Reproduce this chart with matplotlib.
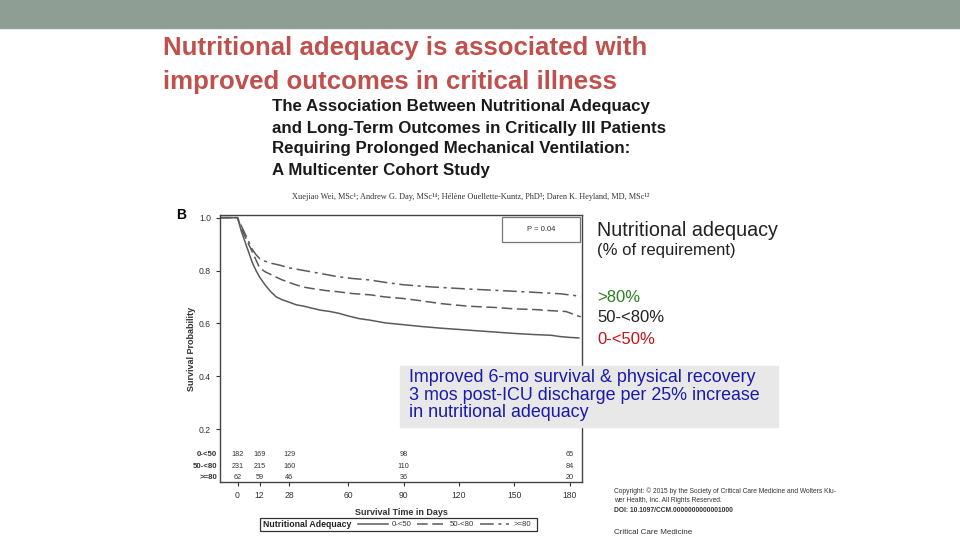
import matplotlib.pyplot as plt
from matplotlib.patches import Rectangle

plt.rcParams['font.family'] = ['Liberation Sans', 'DejaVu Sans']

# survival curves (days, probability)
t_low = [0, 2, 4, 6, 8, 10, 12, 15, 18, 21, 24, 28, 32, 36, 40, 45, 50, 55, 60, 66, 72,
         80, 90, 100, 110, 120, 130, 140, 150, 160, 170, 175, 180, 185]
s_low = [1.0, 0.95, 0.91, 0.87, 0.83, 0.80, 0.775, 0.745, 0.72, 0.70, 0.69, 0.68, 0.67,
         0.665, 0.658, 0.65, 0.645, 0.638, 0.628, 0.618, 0.612, 0.602, 0.595, 0.588,
         0.582, 0.577, 0.572, 0.567, 0.562, 0.558, 0.555, 0.55, 0.547, 0.545]
t_mid = [0, 2, 4, 6, 8, 10, 12, 15, 18, 21, 24, 28, 32, 36, 42, 48, 54, 62, 72, 80, 90,
         100, 110, 125, 140, 150, 162, 170, 178, 183, 186]
s_mid = [1.0, 0.96, 0.93, 0.90, 0.87, 0.84, 0.81, 0.795, 0.785, 0.775, 0.765, 0.755,
         0.745, 0.737, 0.73, 0.724, 0.72, 0.713, 0.708, 0.70, 0.694, 0.685, 0.675,
         0.665, 0.66, 0.655, 0.652, 0.648, 0.645, 0.632, 0.625]
t_high = [0, 2, 4, 6, 8, 10, 12, 15, 18, 23, 28, 36, 44, 54, 62, 72, 80, 90, 105, 125,
          140, 162, 175, 183, 186]
s_high = [1.0, 0.97, 0.94, 0.91, 0.88, 0.86, 0.845, 0.835, 0.828, 0.82, 0.81, 0.80,
          0.79, 0.777, 0.77, 0.764, 0.755, 0.746, 0.738, 0.73, 0.725, 0.717, 0.712,
          0.705, 0.70]

risk_days = [0, 12, 28, 90, 180]
risk_low = [182, 169, 129, 98, 65]
risk_mid = [231, 215, 160, 110, 84]
risk_high = [62, 59, 46, 36, 20]
group_labels = ['0-<50', '50-<80', '>=80']
x_ticks = [0, 12, 28, 60, 90, 120, 150, 180]
y_ticks = [0.2, 0.4, 0.6, 0.8, 1.0]

fig = plt.figure(figsize=(9.6, 5.4), dpi=100)

# slide background pieces
fig.patches.append(Rectangle((0, 1 - 28 / 540), 1, 28 / 540, transform=fig.transFigure,
                             color='#8f9e95', zorder=0))

fig.text(163 / 960, 1 - 48 / 540, 'Nutritional adequacy is associated with',
         fontsize=18.6, fontweight='bold', color='#c0504d', va='center')
fig.text(163 / 960, 1 - 82 / 540, 'improved outcomes in critical illness',
         fontsize=18.6, fontweight='bold', color='#c0504d', va='center')

art_title = ['The Association Between Nutritional Adequacy',
             'and Long-Term Outcomes in Critically Ill Patients',
             'Requiring Prolonged Mechanical Ventilation:',
             'A Multicenter Cohort Study']
for i, line in enumerate(art_title):
    fig.text(272 / 960, 1 - (107 + 21 * i) / 540, line, fontsize=12.2,
             fontweight='bold', color='#1a1a1a', va='center')
fig.text(292 / 960, 1 - 197 / 540,
         'Xuejiao Wei, MSc¹; Andrew G. Day, MSc¹⁴; Hélène Ouellette-Kuntz, PhD³; '
         'Daren K. Heyland, MD, MSc¹²',
         fontsize=5.95, family=['Liberation Serif', 'DejaVu Serif'], color='#333333',
         va='center')

fig.text(176 / 960, 1 - 215 / 540, 'B', fontsize=10, fontweight='bold', va='center')

# Kaplan-Meier panel
ax = fig.add_axes([220 / 960, 58 / 540, 362 / 960, 267 / 540])
grey = '#5a5a5a'
ax.plot([-10] + t_low, [1.0] + s_low, color=grey, lw=1.1, ls='-')
ax.plot([-10] + t_mid, [1.0] + s_mid, color=grey, lw=1.1, ls=(0, (7, 3)))
ax.plot([-10] + t_high, [1.0] + s_high, color=grey, lw=1.1, ls=(0, (9, 3, 2, 3)))
ax.set_xlim(-9.5, 186.7)
ax.set_ylim(0, 1.01)
ax.set_xticks(x_ticks)
ax.set_yticks(y_ticks)
ax.set_yticklabels(['%.1f' % v for v in y_ticks])
ax.tick_params(labelsize=6.2, colors='#333333', length=3, width=0.8)
for sp in ax.spines.values():
    sp.set_color('#444444')
    sp.set_linewidth(1.0)
ax.set_xlabel('Survival Time in Days', fontsize=6.5, fontweight='bold', color='#333333',
              labelpad=6)
ax.set_ylabel('Survival Probability', fontsize=6.5, fontweight='bold', color='#333333',
              labelpad=2)

rows = [risk_low, risk_mid, risk_high]
row_y = [0.102, 0.057, 0.015]
for lab, vals, yy in zip(group_labels, rows, row_y):
    ax.text(-0.008, yy, lab, transform=ax.transAxes, ha='right', va='center',
            fontsize=5.6, fontweight='bold', color='#333333')
    for d, v in zip(risk_days, vals):
        ax.text(d, yy * 1.01, str(v), ha='center', va='center', fontsize=5.2,
                color='#333333')

ax.add_patch(Rectangle((0.779, 0.899), 0.215, 0.094, transform=ax.transAxes,
                       fill=False, ec='#777777', lw=0.9))
ax.text(0.887, 0.946, 'P = 0.04', transform=ax.transAxes, ha='center', va='center',
        fontsize=5.5, color='#333333')

# bottom legend strip
fig.patches.append(Rectangle((260 / 960, 1 - 531 / 540), 277 / 960, 13 / 540,
                             transform=fig.transFigure, fill=False, ec='#333333',
                             lw=0.9))
fig.text(263 / 960, 1 - 524.5 / 540, 'Nutritional Adequacy', fontsize=6.3,
         fontweight='bold', color='#222222', va='center')
leg = fig.legend(handles=ax.get_lines(), labels=group_labels, loc='center left',
                 bbox_to_anchor=(358 / 960, 1 - 524.5 / 540), ncol=3, fontsize=5.6,
                 frameon=False, handlelength=3.8, borderpad=0.0, borderaxespad=0.0,
                 columnspacing=0.7, handletextpad=0.5)
for txt in leg.get_texts():
    txt.set_color('#333333')

# right-hand notes
fig.text(597 / 960, 1 - 231 / 540, 'Nutritional adequacy', fontsize=14.2,
         color='#222222', va='center')
fig.text(597 / 960, 1 - 251 / 540, '(% of requirement)', fontsize=12, color='#222222',
         va='center')
fig.text(597 / 960, 1 - 297 / 540, '>80%', fontsize=12, color='#2e7d20', va='center')
fig.text(597 / 960, 1 - 317 / 540, '50-<80%', fontsize=12, color='#222222', va='center')
fig.text(597 / 960, 1 - 339 / 540, '0-<50%', fontsize=12, color='#c0141a', va='center')

fig.patches.append(Rectangle((400 / 960, 1 - 427 / 540), 378 / 960, 61 / 540,
                             transform=fig.transFigure, color='#e8e8e8', zorder=5))
box_lines = ['Improved 6-mo survival & physical recovery',
             '3 mos post-ICU discharge per 25% increase',
             'in nutritional adequacy']
for i, line in enumerate(box_lines):
    fig.text(409 / 960, 1 - (378 + 17.3 * i) / 540, line, fontsize=12.9,
             color='#1a1aa8', va='center', zorder=6)

fig.text(614 / 960, 1 - 491 / 540,
         'Copyright: © 2015 by the Society of Critical Care Medicine and Wolters Klu-',
         fontsize=4.8, color='#333333', va='center')
fig.text(614 / 960, 1 - 500 / 540, 'wer Health, Inc. All Rights Reserved.',
         fontsize=4.8, color='#333333', va='center')
fig.text(614 / 960, 1 - 510 / 540, 'DOI: 10.1097/CCM.0000000000001000',
         fontsize=4.8, fontweight='bold', color='#333333', va='center')
fig.text(614 / 960, 1 - 533 / 540, 'Critical Care Medicine', fontsize=5.8,
         color='#333333', va='center')

fig.savefig('out.png', dpi=100)
